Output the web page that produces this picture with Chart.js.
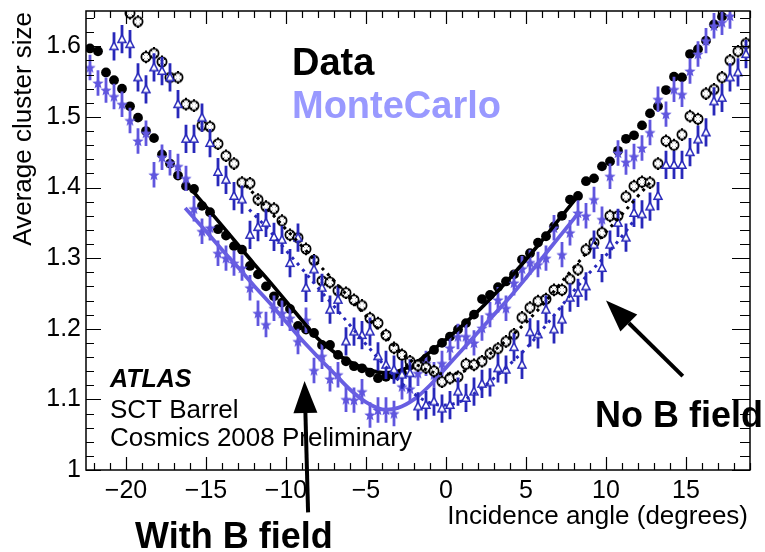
<!DOCTYPE html>
<html>
<head>
<meta charset="utf-8">
<script src="https://cdn.jsdelivr.net/npm/chart.js@4.4.1/dist/chart.umd.min.js"></script>
<style>
  html, body { margin: 0; padding: 0; background: #fff; }
  canvas { display: block; }
</style>
</head>
<body>
<canvas id="chart" width="765" height="552"></canvas>
<script>
// bin centres (degrees), 0.5 deg bins
const angles = [
  -22.25, -21.75, -21.25, -20.75, -20.25, -19.75, -19.25, -18.75, -18.25, -17.75,
  -17.25, -16.75, -16.25, -15.75, -15.25, -14.75, -14.25, -13.75, -13.25, -12.75,
  -12.25, -11.75, -11.25, -10.75, -10.25, -9.75, -9.25, -8.75, -8.25, -7.75,
  -7.25, -6.75, -6.25, -5.75, -5.25, -4.75, -4.25, -3.75, -3.25, -2.75,
  -2.25, -1.75, -1.25, -0.75, -0.25, 0.25, 0.75, 1.25, 1.75, 2.25,
  2.75, 3.25, 3.75, 4.25, 4.75, 5.25, 5.75, 6.25, 6.75, 7.25,
  7.75, 8.25, 8.75, 9.25, 9.75, 10.25, 10.75, 11.25, 11.75, 12.25,
  12.75, 13.25, 13.75, 14.25, 14.75, 15.25, 15.75, 16.25, 16.75, 17.25,
  17.75, 18.25, 18.75
];

const dataWithB = [
  1.597, 1.593, 1.563, 1.552, 1.540, 1.515, 1.499, 1.480, 1.470, 1.447,
  1.434, 1.417, 1.402, 1.398, 1.374, 1.365, 1.341, 1.332, 1.317, 1.312,
  1.289, 1.277, 1.260, 1.246, 1.237, 1.228, 1.204, 1.199, 1.194, 1.177,
  1.177, 1.163, 1.154, 1.147, 1.144, 1.138, 1.130, 1.132, 1.135, 1.137,
  1.148, 1.150, 1.158, 1.170, 1.180, 1.189, 1.199, 1.208, 1.220, 1.242,
  1.248, 1.259, 1.267, 1.277, 1.298, 1.307, 1.322, 1.331, 1.345, 1.360,
  1.383, 1.388, 1.409, 1.413, 1.430, 1.437, 1.452, 1.469, 1.474, 1.488,
  1.505, 1.515, 1.538, 1.557, 1.556, 1.589, 1.596, 1.608, 1.631, 1.642,
  1.662, 1.675, 1.690
];

const dataNoB = [
  1.720, 1.710, 1.700, 1.680, 1.665, 1.647, 1.635, 1.585, 1.590, 1.578,
  1.556, 1.556, 1.518, 1.516, 1.488, 1.486, 1.462, 1.445, 1.434, 1.407,
  1.406, 1.383, 1.373, 1.370, 1.353, 1.333, 1.329, 1.313, 1.297, 1.268,
  1.266, 1.254, 1.251, 1.241, 1.233, 1.215, 1.208, 1.191, 1.173, 1.163,
  1.154, 1.148, 1.145, 1.140, 1.125, 1.130, 1.132, 1.150, 1.149, 1.154,
  1.165, 1.172, 1.182, 1.192, 1.216, 1.230, 1.239, 1.242, 1.255, 1.255,
  1.270, 1.284, 1.312, 1.322, 1.336, 1.360, 1.360, 1.387, 1.402, 1.408,
  1.407, 1.434, 1.466, 1.460, 1.475, 1.501, 1.497, 1.533, 1.539, 1.556,
  1.580, 1.593, 1.604
];

const mcWithB = [
  1.570, 1.548, 1.538, 1.529, 1.518, 1.495, 1.466, 1.477, 1.418, 1.443,
  1.435, 1.430, 1.413, 1.370, 1.338, 1.343, 1.307, 1.300, 1.293, 1.286,
  1.258, 1.222, 1.206, 1.229, 1.222, 1.215, 1.182, 1.212, 1.141, 1.161,
  1.129, 1.135, 1.100, 1.099, 1.111, 1.078, 1.085, 1.085, 1.080, 1.118,
  1.115, 1.137, 1.151, 1.135, 1.151, 1.173, 1.189, 1.189, 1.180, 1.201,
  1.220, 1.241, 1.229, 1.265, 1.285, 1.294, 1.291, 1.300, 1.343, 1.305,
  1.336, 1.364, 1.360, 1.383, 1.355, 1.416, 1.449, 1.436, 1.444, 1.456,
  1.478, 1.525, 1.504, 1.539, 1.532, 1.565, 1.589, 1.608, 1.629, 1.634,
  1.643, 1.670, 1.690
];

const mcNoB = [
  1.700, 1.690, 1.680, 1.600, 1.610, 1.603, 1.556, 1.539, 1.570, 1.565,
  1.556, 1.518, 1.469, 1.469, 1.499, 1.463, 1.422, 1.411, 1.388, 1.383,
  1.333, 1.344, 1.350, 1.330, 1.326, 1.293, 1.329, 1.258, 1.284, 1.258,
  1.227, 1.241, 1.182, 1.196, 1.191, 1.196, 1.161, 1.149, 1.142, 1.135,
  1.137, 1.090, 1.092, 1.097, 1.087, 1.092, 1.111, 1.102, 1.111, 1.122,
  1.124, 1.144, 1.142, 1.174, 1.149, 1.195, 1.192, 1.227, 1.199, 1.213,
  1.244, 1.251, 1.260, 1.319, 1.286, 1.319, 1.350, 1.329, 1.364, 1.362,
  1.373, 1.388, 1.432, 1.432, 1.432, 1.450, 1.468, 1.478, 1.522, 1.527,
  1.556, 1.563, 1.589
];

// statistical errors (half-length of the vertical bars)
const errDataWithB = 0.004;
const errDataNoB = 0.009;
const errMcWithB = 0.018;
const errMcNoB = 0.020;

// fitted curves
const fitDataWithBX = [-15.9, -15, -14, -13, -12, -11, -10, -9, -8, -7, -6, -5, -4, -3, -2, -1, 0, 1, 2, 3, 4, 5, 6, 7, 8, 8.3];
const fitDataWithBY = [1.397, 1.373, 1.346, 1.319, 1.292, 1.266, 1.239, 1.212, 1.186, 1.167, 1.153, 1.143, 1.138, 1.140, 1.150, 1.167, 1.185, 1.204, 1.225, 1.248, 1.272, 1.298, 1.325, 1.353, 1.381, 1.390];
const fitMcWithBX = [-16.3, -15, -14, -13, -12, -11, -10, -9, -8, -7, -6, -5, -4, -3, -2, -1, 0, 1, 2, 3, 4, 5, 6, 7, 8, 8.3];
const fitMcWithBY = [1.371, 1.338, 1.312, 1.287, 1.261, 1.236, 1.210, 1.184, 1.160, 1.137, 1.114, 1.096, 1.086, 1.088, 1.100, 1.120, 1.145, 1.170, 1.195, 1.220, 1.245, 1.272, 1.300, 1.328, 1.356, 1.365];
const fitDataNoBX = [-12.5, -12, -11, -10, -9, -8, -7, -6, -5, -4, -3, -2, -1, 0, 1, 2, 3, 4, 5, 6, 7, 8, 9, 10, 11, 12, 12.8];
const fitDataNoBY = [1.403, 1.391, 1.366, 1.341, 1.317, 1.292, 1.268, 1.243, 1.218, 1.194, 1.171, 1.152, 1.140, 1.136, 1.139, 1.152, 1.169, 1.188, 1.209, 1.233, 1.260, 1.287, 1.313, 1.337, 1.362, 1.388, 1.408];
const fitMcNoBX = [-12.3, -12, -11, -10, -9, -8, -7, -6, -5, -4, -3, -2, -1, 0, 1, 2, 3, 4, 5, 6, 7, 8, 9, 10, 11, 11.8];
const fitMcNoBY = [1.369, 1.362, 1.338, 1.311, 1.285, 1.258, 1.232, 1.205, 1.178, 1.152, 1.128, 1.108, 1.095, 1.092, 1.098, 1.112, 1.130, 1.150, 1.172, 1.198, 1.226, 1.254, 1.280, 1.304, 1.331, 1.355];

// arrows, tail -> tip, in axis units
const arrows = [
  { x0: -8.62, y0: 0.940, x1: -8.84, y1: 1.126 },
  { x0: 14.8, y0: 1.133, x1: 10.0, y1: 1.240 },
];

const FONT = '"Liberation Sans", Arial, Helvetica, sans-serif';
const MC_VIOLET = 'rgb(96,86,222)';
const MC_BLUE = 'rgb(40,40,186)';

function points(xs, ys) {
  return xs.map((x, i) => ({ x, y: ys[i] }));
}

function markerCanvas(size, draw) {
  const c = document.createElement('canvas');
  c.width = size;
  c.height = size;
  draw(c.getContext('2d'), size / 2);
  return c;
}

const openCrossCircle = markerCanvas(14, (g, c) => {
  g.fillStyle = '#fff';
  g.strokeStyle = '#000';
  g.lineWidth = 1.8;
  g.beginPath();
  g.arc(c, c, 4.6, 0, Math.PI * 2);
  g.fill();
  g.stroke();
  g.lineWidth = 1;
  g.beginPath();
  for (let k = 0; k < 4; k++) {
    const a = Math.PI / 4 + k * Math.PI / 2;
    g.moveTo(c + Math.cos(a) * 2.4, c + Math.sin(a) * 2.4);
    g.lineTo(c + Math.cos(a) * 4.4, c + Math.sin(a) * 4.4);
  }
  g.stroke();
});

const filledStar = markerCanvas(14, (g, c) => {
  g.fillStyle = MC_VIOLET;
  g.beginPath();
  for (let k = 0; k < 10; k++) {
    const r = k % 2 === 0 ? 6 : 2.6;
    const a = -Math.PI / 2 + k * Math.PI / 5;
    const px = c + Math.cos(a) * r;
    const py = c + 0.5 + Math.sin(a) * r;
    if (k === 0) g.moveTo(px, py); else g.lineTo(px, py);
  }
  g.closePath();
  g.fill();
});

const openTriangle = markerCanvas(12, (g, c) => {
  g.fillStyle = '#fff';
  g.strokeStyle = MC_BLUE;
  g.lineWidth = 1.5;
  g.beginPath();
  g.moveTo(c, c - 4.3);
  g.lineTo(c - 4, c + 3.2);
  g.lineTo(c + 4, c + 3.2);
  g.closePath();
  g.fill();
  g.stroke();
});

const whiteBackground = {
  id: 'whiteBackground',
  beforeDraw(chart) {
    const { ctx, width, height } = chart;
    ctx.save();
    ctx.fillStyle = '#fff';
    ctx.fillRect(0, 0, width, height);
    ctx.restore();
  },
};

// vertical error bars, drawn under each dataset's markers
const errorBars = {
  id: 'errorBars',
  beforeDatasetDraw(chart, args) {
    const ds = chart.data.datasets[args.index];
    if (!ds.errY) return;
    const { ctx, chartArea: a, scales: { x, y } } = chart;
    ctx.save();
    ctx.beginPath();
    ctx.rect(a.left, a.top, a.right - a.left, a.bottom - a.top);
    ctx.clip();
    ctx.strokeStyle = ds.errColor;
    ctx.lineWidth = ds.errWidth;
    ctx.beginPath();
    ds.data.forEach((p) => {
      const px = x.getPixelForValue(p.x);
      ctx.moveTo(px, y.getPixelForValue(p.y - ds.errY));
      ctx.lineTo(px, y.getPixelForValue(p.y + ds.errY));
    });
    ctx.stroke();
    ctx.restore();
  },
};

// ROOT style frame with inward ticks on all four sides
const rootFrame = {
  id: 'rootFrame',
  afterDatasetsDraw(chart) {
    const { ctx, chartArea: a, scales: { x, y } } = chart;
    ctx.save();
    ctx.strokeStyle = '#000';
    ctx.lineWidth = 1.2;
    ctx.beginPath();
    for (let v = -22; v <= 19; v++) {
      const px = Math.round(x.getPixelForValue(v)) + 0.5;
      const len = v % 5 === 0 ? 13 : 7;
      ctx.moveTo(px, a.bottom); ctx.lineTo(px, a.bottom - len);
      ctx.moveTo(px, a.top); ctx.lineTo(px, a.top + len);
    }
    for (let i = 0; i <= 32; i++) {
      const py = Math.round(y.getPixelForValue(1 + i * 0.02)) + 0.5;
      const major = i % 5 === 0;
      ctx.moveTo(a.left, py); ctx.lineTo(a.left + (major ? 15 : 8), py);
      ctx.moveTo(a.right, py); ctx.lineTo(a.right - (major ? 18 : 10), py);
    }
    ctx.stroke();
    ctx.lineWidth = 1.5;
    ctx.strokeRect(a.left, a.top, a.right - a.left, a.bottom - a.top);
    ctx.restore();
  },
};

function drawArrow(ctx, x0, y0, x1, y1) {
  const ang = Math.atan2(y1 - y0, x1 - x0);
  const headLen = 32;
  const headHalf = 12;
  const bx = x1 - Math.cos(ang) * headLen;
  const by = y1 - Math.sin(ang) * headLen;
  ctx.lineWidth = 4;
  ctx.beginPath();
  ctx.moveTo(x0, y0);
  ctx.lineTo(bx, by);
  ctx.stroke();
  ctx.beginPath();
  ctx.moveTo(x1, y1);
  ctx.lineTo(bx - Math.sin(ang) * headHalf, by + Math.cos(ang) * headHalf);
  ctx.lineTo(bx + Math.sin(ang) * headHalf, by - Math.cos(ang) * headHalf);
  ctx.closePath();
  ctx.fill();
}

const annotations = {
  id: 'annotations',
  afterDraw(chart) {
    const { ctx, scales: { x, y } } = chart;
    ctx.save();
    ctx.textBaseline = 'alphabetic';
    ctx.fillStyle = '#000';
    ctx.strokeStyle = '#000';

    ctx.font = 'bold 38px ' + FONT;
    ctx.fillText('Data', 292, 75);
    ctx.fillStyle = '#9999ff';
    ctx.fillText('MonteCarlo', 292, 118);

    ctx.fillStyle = '#000';
    ctx.font = 'italic bold 25px ' + FONT;
    ctx.fillText('ATLAS', 110, 387);
    ctx.font = '26px ' + FONT;
    ctx.fillText('SCT Barrel', 110, 418);
    ctx.fillText('Cosmics 2008 Preliminary', 110, 446);

    ctx.font = 'bold 36px ' + FONT;
    ctx.fillText('With B field', 135, 548);
    ctx.fillText('No B field', 595, 427);

    ctx.font = '26px ' + FONT;
    ctx.textAlign = 'right';
    ctx.fillText('Incidence angle (degrees)', 748, 524);

    ctx.save();
    ctx.translate(31, 12);
    ctx.rotate(-Math.PI / 2);
    ctx.fillText('Average cluster size', 0, 0);
    ctx.restore();

    arrows.forEach((a) => drawArrow(ctx,
      x.getPixelForValue(a.x0), y.getPixelForValue(a.y0),
      x.getPixelForValue(a.x1), y.getPixelForValue(a.y1)));
    ctx.restore();
  },
};

function fitLine(xs, ys, color, dash, width) {
  return {
    data: points(xs, ys),
    showLine: true,
    borderColor: color,
    borderWidth: width || 3.4,
    borderDash: dash || [],
    pointRadius: 0,
    tension: 0.35,
    fill: false,
    clip: 0,
  };
}

new Chart(document.getElementById('chart'), {
  type: 'scatter',
  data: {
    datasets: [
      fitLine(fitDataNoBX, fitDataNoBY, '#000', [3, 5], 3),
      fitLine(fitMcNoBX, fitMcNoBY, MC_BLUE, [3, 5], 3),
      {
        data: points(angles, mcNoB),
        pointStyle: openTriangle, pointRadius: 5,
        errY: errMcNoB, errColor: MC_BLUE, errWidth: 2.8, clip: 0,
      },
      {
        data: points(angles, dataNoB),
        pointStyle: openCrossCircle, pointRadius: 6,
        errY: errDataNoB, errColor: '#000', errWidth: 2, clip: 0,
      },
      fitLine(fitMcWithBX, fitMcWithBY, 'rgb(104,94,226)', null, 3.8),
      fitLine(fitDataWithBX, fitDataWithBY, '#000', null, 3.6),
      {
        data: points(angles, mcWithB),
        pointStyle: filledStar, pointRadius: 6,
        errY: errMcWithB, errColor: MC_VIOLET, errWidth: 2.8, clip: 0,
      },
      {
        data: points(angles, dataWithB),
        pointStyle: 'circle', pointRadius: 4.9,
        backgroundColor: '#000', borderWidth: 0,
        errY: errDataWithB, errColor: '#000', errWidth: 1.5, clip: 0,
      },
    ],
  },
  options: {
    responsive: false,
    animation: false,
    events: [],
    layout: { padding: { left: 0, right: 15, top: 11, bottom: 0 } },
    plugins: { legend: { display: false }, tooltip: { enabled: false } },
    scales: {
      x: {
        type: 'linear',
        min: -22.5,
        max: 19,
        grid: { display: false, drawTicks: false },
        border: { display: false },
        afterFit(s) {
          s.height = 82;
          s.paddingLeft = 0;
          s.paddingRight = 0;
        },
        ticks: {
          stepSize: 5,
          includeBounds: false,
          padding: 6,
          maxRotation: 0,
          color: '#000',
          font: { family: FONT, size: 25 },
          callback: (v) => (v < 0 ? '\u2212' + Math.abs(v) : String(v)),
        },
      },
      y: {
        type: 'linear',
        min: 1,
        max: 1.65,
        grid: { display: false, drawTicks: false },
        border: { display: false },
        afterFit(s) {
          s.width = 86;
          s.paddingTop = 0;
          s.paddingBottom = 0;
        },
        ticks: {
          stepSize: 0.1,
          includeBounds: false,
          padding: 5,
          color: '#000',
          font: { family: FONT, size: 25 },
          callback: (v) => String(Math.round(v * 10) / 10),
        },
      },
    },
  },
  plugins: [whiteBackground, errorBars, rootFrame, annotations],
});
</script>
</body>
</html>
